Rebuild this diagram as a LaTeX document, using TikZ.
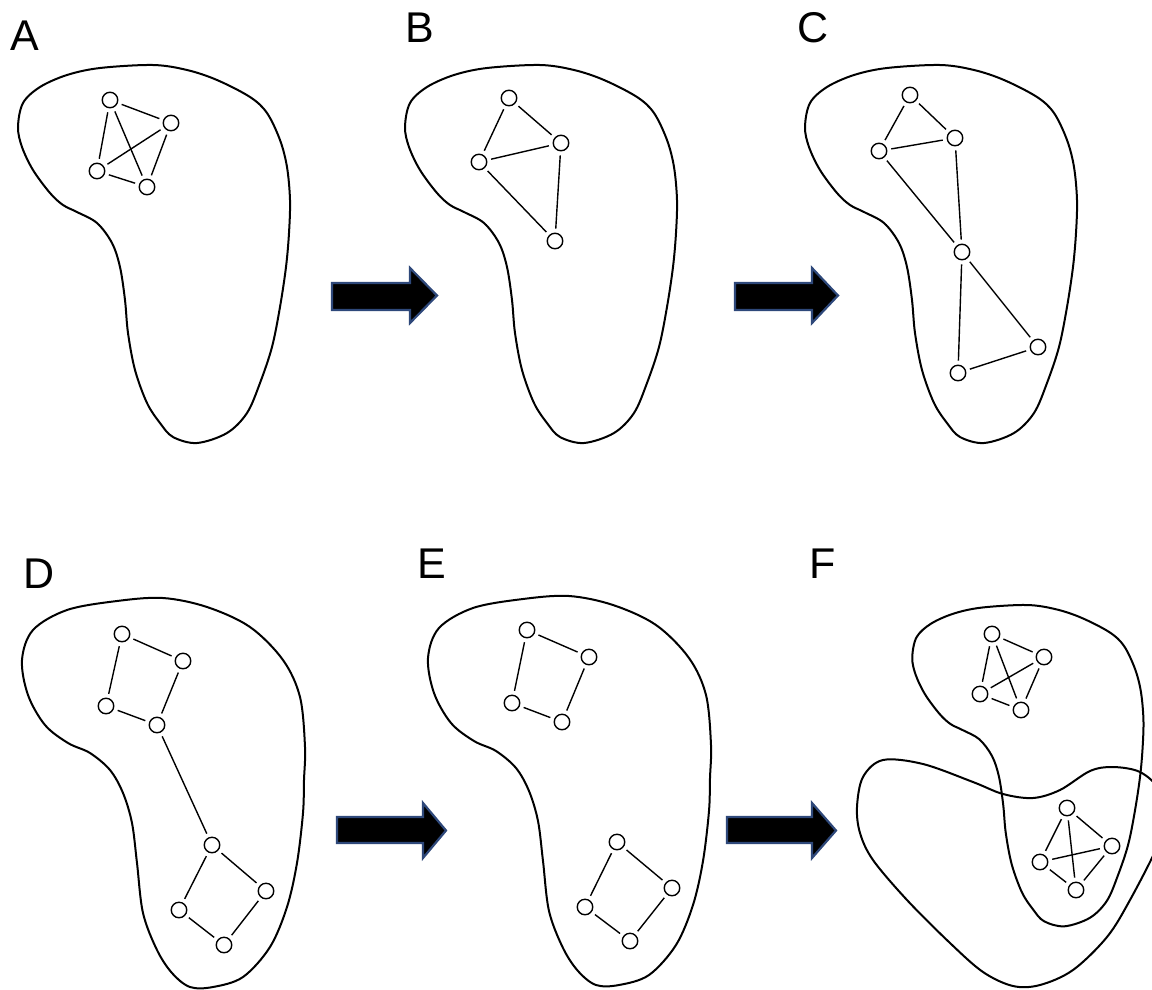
\documentclass[tikz,border=0pt]{standalone}
\usepackage{fontspec}
\setmainfont{Liberation Sans}
\definecolor{arrowblue}{RGB}{46,72,122}
\newcommand\blobshapeA[1]{\draw[blob,#1] plot[smooth cycle,tension=0.55] coordinates {(153,65) (187,70) (217,80) (250,97) (267,113) (280,140) (287,167) (290,200) (289,233) (286,267) (280,307) (272,347) (260,383) (247,413) (227,433) (197,443) (173,437) (160,423) (147,403) (135,370) (128,333) (125,300) (120,267) (112,243) (97,223) (77,212) (63,205) (50,193) (33,170) (22,147) (18,127) (23,103) (40,87) (67,75) (100,68)};}
\newcommand\blobshapeD[1]{\draw[blob,#1] plot[smooth cycle,tension=0.55] coordinates {(163,598) (207,607) (250,627) (283,660) (300,697) (305,747) (304,780) (303,813) (297,863) (287,907) (270,947) (243,977) (213,987) (190,987) (172,973) (157,950) (143,913) (137,863) (132,823) (123,793) (110,770) (90,753) (68,743) (45,725) (28,695) (22,660) (33,630) (67,610) (117,601)};}
\begin{document}
\begin{tikzpicture}[x=1pt,y=-1pt,
  blob/.style={draw=black,line width=2pt},
  vert/.style={circle,draw=black,line width=1.4pt,minimum size=15.5pt,inner sep=0pt},
  link/.style={line width=1.4pt,shorten >=4pt,shorten <=4pt},
  bigarrow/.style={fill=black,draw=arrowblue,line width=2.2pt,line join=miter},
  lab/.style={font=\fontsize{43}{50}\selectfont,inner sep=0pt}]
\useasboundingbox (0,0) rectangle (1152,989);

% ---- labels
\node[lab] (LA) at (25,36) {A};
\node[lab] (LB) at (420,28) {B};
\node[lab] (LC) at (813,28) {C};
\node[lab] (LD) at (39,574) {D};
\node[lab] (LE) at (432,564) {E};
\node[lab] (LF) at (823,564) {F};

% ---- blobs
\blobshapeA{}
\blobshapeA{shift={(387,0)}}
\blobshapeA{shift={(787,0)}}
\blobshapeD{}
\blobshapeD{shift={(406,-2)}}
\blobshapeA{shift={(1027,605)},scale=0.85,shift={(-153,-65)}}
\begin{scope}
  \clip (0,0) rectangle (1152,989);
  \draw[blob] plot[smooth cycle,tension=0.55] coordinates {(883,760) (923,764) (973,782) (1003,794) (1033,798) (1060,790) (1090,771) (1113,767) (1140,772) (1160,790) (1166,815) (1158,845) (1130,900) (1107,937) (1073,970) (1040,985) (1013,986) (983,972) (950,943) (907,900) (873,860) (860,833) (857,807) (863,777)};
\end{scope}

% ---- arrows
\draw[bigarrow] (332,283) -- (410,283) -- (410,268) -- (437,295.5) -- (410,323) -- (410,310) -- (332,310) -- cycle;
\draw[bigarrow] (735,283) -- (812,283) -- (812,268) -- (838,295.5) -- (812,323) -- (812,310) -- (735,310) -- cycle;
\draw[bigarrow] (337,817) -- (423,817) -- (423,803) -- (446,830.5) -- (423,858) -- (423,843) -- (337,843) -- cycle;
\draw[bigarrow] (727,817) -- (812,817) -- (812,803) -- (836,830.5) -- (812,858) -- (812,843) -- (727,843) -- cycle;

% ---- panel A
\node[vert] (a1) at (110,100) {};
\node[vert] (a2) at (171,123) {};
\node[vert] (a3) at (97,171) {};
\node[vert] (a4) at (147,187) {};
\draw[link] (a1) -- (a2); \draw[link] (a1) -- (a3); \draw[link] (a1) -- (a4);
\draw[link] (a2) -- (a3); \draw[link] (a2) -- (a4); \draw[link] (a3) -- (a4);

% ---- panel B
\node[vert] (b1) at (509,98) {};
\node[vert] (b2) at (561,143) {};
\node[vert] (b3) at (479,162) {};
\node[vert] (b4) at (555,241) {};
\draw[link] (b1) -- (b2); \draw[link] (b1) -- (b3); \draw[link] (b3) -- (b2);
\draw[link] (b2) -- (b4); \draw[link] (b3) -- (b4);

% ---- panel C
\node[vert] (c1) at (910,95) {};
\node[vert] (c2) at (955,138) {};
\node[vert] (c3) at (879,151) {};
\node[vert] (c4) at (962,252) {};
\node[vert] (c5) at (1038,347) {};
\node[vert] (c6) at (958,373) {};
\draw[link] (c1) -- (c2); \draw[link] (c1) -- (c3); \draw[link] (c3) -- (c2);
\draw[link] (c3) -- (c4); \draw[link] (c2) -- (c4);
\draw[link] (c4) -- (c5); \draw[link] (c4) -- (c6); \draw[link] (c6) -- (c5);

% ---- panel D
\node[vert] (d1) at (122,634) {};
\node[vert] (d2) at (183,661) {};
\node[vert] (d3) at (106,706) {};
\node[vert] (d4) at (157,725) {};
\node[vert] (d5) at (212,845) {};
\node[vert] (d6) at (266,891) {};
\node[vert] (d7) at (179,910) {};
\node[vert] (d8) at (224,945) {};
\draw[link] (d1) -- (d2); \draw[link] (d1) -- (d3); \draw[link] (d2) -- (d4); \draw[link] (d3) -- (d4);
\draw[link] (d4) -- (d5);
\draw[link] (d5) -- (d6); \draw[link] (d5) -- (d7); \draw[link] (d6) -- (d8); \draw[link] (d7) -- (d8);

% ---- panel E
\node[vert] (e1) at (527,630) {};
\node[vert] (e2) at (589,657) {};
\node[vert] (e3) at (512,703) {};
\node[vert] (e4) at (562,722) {};
\node[vert] (e5) at (617,842) {};
\node[vert] (e6) at (672,888) {};
\node[vert] (e7) at (585,907) {};
\node[vert] (e8) at (630,941) {};
\draw[link] (e1) -- (e2); \draw[link] (e1) -- (e3); \draw[link] (e2) -- (e4); \draw[link] (e3) -- (e4);
\draw[link] (e5) -- (e6); \draw[link] (e5) -- (e7); \draw[link] (e6) -- (e8); \draw[link] (e7) -- (e8);

% ---- panel F
\node[vert] (f1) at (992,634) {};
\node[vert] (f2) at (1044,657) {};
\node[vert] (f3) at (980,694) {};
\node[vert] (f4) at (1021,710) {};
\draw[link] (f1) -- (f2); \draw[link] (f1) -- (f3); \draw[link] (f1) -- (f4);
\draw[link] (f2) -- (f3); \draw[link] (f2) -- (f4); \draw[link] (f3) -- (f4);
\node[vert] (g1) at (1067,808) {};
\node[vert] (g2) at (1112,846) {};
\node[vert] (g3) at (1040,862) {};
\node[vert] (g4) at (1076,890) {};
\draw[link] (g1) -- (g2); \draw[link] (g1) -- (g3); \draw[link] (g1) -- (g4);
\draw[link] (g2) -- (g3); \draw[link] (g2) -- (g4); \draw[link] (g3) -- (g4);
\end{tikzpicture}
\end{document}
